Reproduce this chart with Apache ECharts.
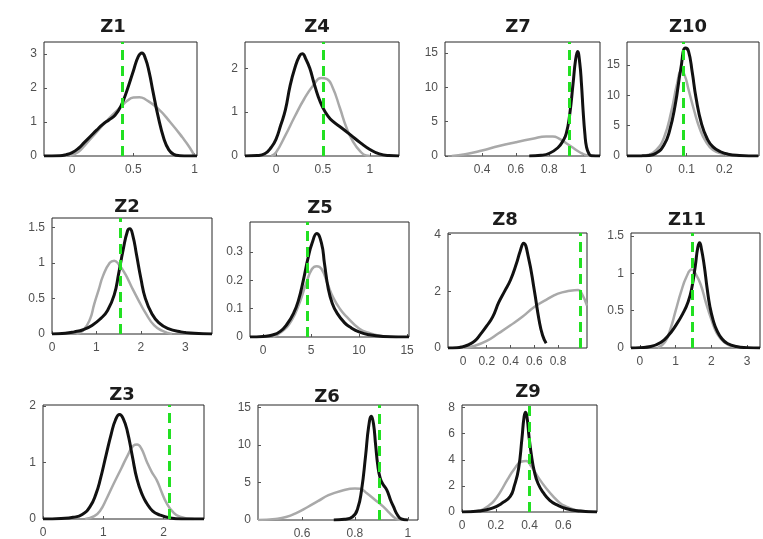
<!DOCTYPE html>
<html><head><meta charset="utf-8">
<script src="https://cdn.jsdelivr.net/npm/echarts@6/dist/echarts.min.js"></script>
<style>html,body{margin:0;padding:0;background:#fff}#c{width:763px;height:539px}</style>
</head><body><div id="c"></div>
<script>
// ---------- data ----------
const panelNames = ['Z1','Z4','Z7','Z10','Z2','Z5','Z8','Z11','Z3','Z6','Z9'];

const z1Black = [[-0.23,0],[-0.1,0.01],[-0.05,0.04],[0,0.1],[0.05,0.22],[0.1,0.4],[0.15,0.58],[0.2,0.76],[0.25,0.93],[0.3,1.06],[0.35,1.2],[0.4,1.48],[0.45,1.95],[0.5,2.5],[0.54,2.92],[0.57,3.03],[0.6,2.85],[0.63,2.45],[0.66,1.9],[0.7,1.2],[0.75,0.5],[0.79,0.18],[0.83,0.05],[0.88,0.01],[0.95,0],[1.02,0]];
const z1Gray  = [[-0.02,0],[0.05,0.12],[0.1,0.3],[0.2,0.7],[0.3,1.1],[0.4,1.45],[0.45,1.62],[0.5,1.72],[0.55,1.73],[0.6,1.66],[0.7,1.4],[0.8,1.0],[0.9,0.55],[0.96,0.25],[1.0,0]];
const z4Black = [[-0.33,0],[-0.2,0.01],[-0.12,0.05],[-0.05,0.2],[0,0.38],[0.05,0.7],[0.1,1.05],[0.15,1.6],[0.2,2.0],[0.25,2.28],[0.28,2.33],[0.32,2.2],[0.36,2.0],[0.4,1.7],[0.45,1.35],[0.5,1.1],[0.55,0.92],[0.6,0.8],[0.7,0.64],[0.8,0.47],[0.9,0.3],[1.0,0.15],[1.1,0.05],[1.2,0.01],[1.31,0]];
const z4Gray  = [[-0.05,0],[0,0.08],[0.1,0.47],[0.2,0.9],[0.3,1.3],[0.4,1.62],[0.48,1.78],[0.54,1.76],[0.6,1.58],[0.68,1.1],[0.75,0.65],[0.82,0.33],[0.9,0.1],[0.96,0.01],[1.0,0]];
const z7Black = [[0.68,0],[0.75,0.1],[0.8,0.4],[0.85,1.2],[0.88,2.2],[0.9,3.3],[0.92,6],[0.94,10.5],[0.955,14],[0.967,15.2],[0.98,13.5],[0.99,10.5],[1.0,6.5],[1.01,3.3],[1.02,1.3],[1.035,0.3],[1.05,0.05],[1.1,0]];
const z7Gray  = [[0.22,0],[0.3,0.25],[0.4,0.8],[0.5,1.45],[0.6,2.0],[0.7,2.5],[0.78,2.85],[0.82,2.85],[0.86,2.5],[0.9,1.85],[0.94,1.2],[0.98,0.55],[1.02,0.1],[1.05,0]];
const z10Black = [[-0.058,0],[-0.02,0.02],[0,0.1],[0.02,0.5],[0.04,1.8],[0.055,4.2],[0.07,8.5],[0.085,14.5],[0.097,17.8],[0.105,17.3],[0.115,13.8],[0.125,9.6],[0.14,5.2],[0.155,2.8],[0.17,1.5],[0.19,0.7],[0.21,0.3],[0.24,0.1],[0.29,0]];
const z10Gray  = [[-0.02,0],[0,0.2],[0.02,1.0],[0.04,3.0],[0.06,7.5],[0.075,12],[0.086,14],[0.095,13.3],[0.105,11],[0.12,7.5],[0.135,4.5],[0.15,2.5],[0.17,1.0],[0.2,0.3],[0.24,0]];
const z2Black = [[0,0],[0.3,0.01],[0.5,0.03],[0.7,0.06],[0.9,0.12],[1.1,0.22],[1.25,0.33],[1.4,0.55],[1.5,0.85],[1.6,1.18],[1.7,1.45],[1.75,1.48],[1.82,1.38],[1.9,1.12],[2.0,0.78],[2.1,0.5],[2.25,0.28],[2.4,0.16],[2.6,0.08],[2.9,0.03],[3.2,0.01],[3.6,0]];
const z2Gray  = [[0.55,0],[0.7,0.05],[0.85,0.2],[0.95,0.42],[1.05,0.62],[1.15,0.82],[1.3,1.0],[1.4,1.03],[1.5,0.98],[1.65,0.84],[1.8,0.65],[1.95,0.47],[2.1,0.3],[2.3,0.12],[2.5,0.04],[2.7,0]];
const z5Black = [[-1.35,0],[0,0.002],[1,0.007],[1.8,0.02],[2.5,0.045],[3.2,0.085],[3.7,0.13],[4.2,0.2],[4.7,0.28],[5.1,0.33],[5.6,0.365],[6.1,0.33],[6.4,0.26],[6.8,0.17],[7.2,0.12],[7.7,0.085],[8.5,0.05],[9.2,0.032],[10,0.018],[11,0.008],[12.5,0.002],[15.2,0]];
const z5Gray  = [[1,0],[2,0.02],[3,0.06],[3.8,0.12],[4.5,0.19],[5.1,0.24],[5.6,0.25],[6.1,0.24],[6.7,0.19],[7.3,0.14],[8,0.1],[8.7,0.072],[10,0.03],[11,0.015],[12.5,0.003],[14,0]];
const z8Black = [[-0.126,0],[-0.05,0.01],[0,0.05],[0.05,0.12],[0.1,0.25],[0.15,0.5],[0.2,0.78],[0.25,1.1],[0.3,1.6],[0.35,2.0],[0.4,2.4],[0.45,2.98],[0.48,3.4],[0.51,3.7],[0.55,3.22],[0.6,2.05],[0.64,1.0],[0.67,0.45],[0.7,0.17]];
const z8Gray  = [[0,0],[0.1,0.08],[0.2,0.25],[0.3,0.52],[0.4,0.8],[0.5,1.1],[0.6,1.45],[0.7,1.7],[0.8,1.92],[0.9,2.02],[0.97,2.05],[1.0,1.92],[1.044,1.5]];
const z11Black = [[-0.25,0],[0,0.005],[0.3,0.02],[0.6,0.08],[0.8,0.17],[1.0,0.3],[1.2,0.46],[1.35,0.62],[1.45,0.8],[1.55,1.1],[1.62,1.35],[1.67,1.41],[1.72,1.33],[1.8,1.1],[1.88,0.8],[1.96,0.55],[2.05,0.37],[2.15,0.24],[2.3,0.12],[2.45,0.06],[2.7,0.02],[3.0,0.005],[3.36,0]];
const z11Gray  = [[0.5,0],[0.7,0.08],[0.85,0.25],[1.0,0.5],[1.15,0.75],[1.3,0.95],[1.45,1.05],[1.55,1.0],[1.7,0.85],[1.85,0.6],[2.0,0.38],[2.15,0.2],[2.35,0.08],[2.6,0.02],[2.9,0]];
const z3Black = [[0,0],[0.3,0.01],[0.5,0.03],[0.65,0.08],[0.78,0.22],[0.88,0.45],[0.95,0.7],[1.05,1.15],[1.13,1.5],[1.2,1.75],[1.27,1.85],[1.33,1.78],[1.4,1.55],[1.48,1.12],[1.56,0.7],[1.65,0.42],[1.72,0.28],[1.82,0.14],[1.94,0.07],[2.1,0.02],[2.3,0],[2.67,0]];
const z3Gray  = [[0.7,0],[0.85,0.05],[0.95,0.15],[1.05,0.35],[1.17,0.62],[1.3,0.9],[1.4,1.12],[1.5,1.3],[1.56,1.32],[1.63,1.25],[1.72,1.02],[1.8,0.84],[1.89,0.68],[1.97,0.47],[2.05,0.28],[2.15,0.13],[2.27,0.04],[2.5,0]];
const z6Black = [[0.72,0],[0.76,0.1],[0.79,0.4],[0.81,1.5],[0.825,4],[0.84,8.5],[0.852,12.5],[0.862,13.8],[0.87,12.8],[0.878,10],[0.886,7.3],[0.895,5.6],[0.905,4.8],[0.92,4.0],[0.935,2.6],[0.945,1.8],[0.96,0.7],[0.975,0.15],[1.0,0]];
const z6Gray  = [[0.434,0],[0.5,0.15],[0.54,0.4],[0.58,0.95],[0.62,1.7],[0.66,2.5],[0.7,3.3],[0.75,3.9],[0.8,4.2],[0.82,4.15],[0.845,3.55],[0.875,2.7],[0.907,1.77],[0.93,0.95],[0.945,0.44],[0.963,0.05],[0.975,0]];
const z9Black = [[0,0],[0.1,0.08],[0.18,0.3],[0.24,0.7],[0.286,1.2],[0.31,2.0],[0.335,3.3],[0.355,5.6],[0.368,7.3],[0.377,7.65],[0.387,7.1],[0.397,5.8],[0.412,4.3],[0.427,3.2],[0.45,2.2],[0.484,1.44],[0.52,0.9],[0.563,0.54],[0.62,0.25],[0.7,0.08],[0.8,0]];
const z9Gray  = [[0.05,0],[0.1,0.1],[0.13,0.25],[0.16,0.5],[0.19,0.85],[0.23,1.6],[0.27,2.5],[0.31,3.3],[0.35,3.85],[0.38,3.9],[0.41,3.5],[0.46,2.5],[0.5,1.8],[0.54,1.2],[0.58,0.7],[0.62,0.4],[0.66,0.2],[0.7,0.1],[0.76,0.02],[0.8,0]];

// reference (green dashed) positions
const refValues = [0.41, 0.5, 0.924, 0.09, 1.54, 4.6, 0.994, 1.47, 2.1, 0.892, 0.395];

// tick labels
const xTickValues = [[0,0.5,1],[0,0.5,1],[0.4,0.6,0.8,1],[0,0.1,0.2],[0,1,2,3],[0,5,10,15],[0,0.2,0.4,0.6,0.8],[0,1,2,3],[0,1,2],[0.6,0.8,1],[0,0.2,0.4,0.6]];
const yTickValues = [[0,1,2,3],[0,1,2],[0,5,10,15],[0,5,10,15],[0,0.5,1,1.5],[0,0.1,0.2,0.3],[0,2,4],[0,0.5,1,1.5],[0,1,2],[0,5,10,15],[0,2,4,6,8]];

// axis ranges [xmin, xmax, ymax]
const axisRanges = [[-0.23,1.02,3.35],[-0.33,1.31,2.6],[0.18,1.1,16.6],[-0.058,0.292,18.8],[0,3.6,1.63],[-1.35,15.2,0.406],[-0.126,1.044,4.06],[-0.25,3.36,1.54],[0,2.67,2.02],[0.434,1.038,15.3],[0,0.8,8.2]];

const blackSeries = [z1Black,z4Black,z7Black,z10Black,z2Black,z5Black,z8Black,z11Black,z3Black,z6Black,z9Black];
const graySeries  = [z1Gray,z4Gray,z7Gray,z10Gray,z2Gray,z5Gray,z8Gray,z11Gray,z3Gray,z6Gray,z9Gray];

// ---------- layout (pixel boxes: left, top, width, height ; title centre x, y) ----------
const boxes = [[44,42,153,114],[245,42,154,114],[445,42,155,114],[627,42,132,114],
               [52,218,160,116],[250,222,159,115],[448,233,139,115],[631,233,129,115],
               [43,405,161,114],[258,405,160,115],[462,405,135,107]];
const titlePos = [[113,27],[317,27],[518,27],[688,27],[127,207],[320,208],[505,220],[687,220],[122,395],[327,397],[528,392]];

const grids = [], xAxes = [], yAxes = [], series = [], graphics = [];
const labelStyle = {color:'#505050', fontSize:12, fontFamily:'"Liberation Sans", Arial, sans-serif'};
panelNames.forEach((name, i) => {
  const b = boxes[i], r = axisRanges[i];
  grids.push({left:b[0], top:b[1], width:b[2], height:b[3], show:true, borderColor:'#262626', borderWidth:1, backgroundColor:'transparent', containLabel:false, outerBoundsMode:'none'});
  xAxes.push({type:'value', gridIndex:i, min:r[0], max:r[1],
    axisLine:{show:false, onZero:false}, splitLine:{show:false},
    axisTick:{show:true, inside:true, length:3, customValues:xTickValues[i], lineStyle:{color:'#555'}},
    axisLabel:Object.assign({margin:8, customValues:xTickValues[i]}, labelStyle)});
  yAxes.push({type:'value', gridIndex:i, min:0, max:r[2],
    axisLine:{show:false, onZero:false}, splitLine:{show:false},
    axisTick:{show:true, inside:true, length:3, customValues:yTickValues[i], lineStyle:{color:'#555'}},
    axisLabel:Object.assign({margin:7, customValues:yTickValues[i]}, labelStyle)});
  series.push({type:'line', xAxisIndex:i, yAxisIndex:i, data:graySeries[i], smooth:0.5,
    symbol:'none', showSymbol:false, silent:true, z:2, lineStyle:{color:'#a9a9a9', width:2.5}});
  series.push({type:'line', xAxisIndex:i, yAxisIndex:i, data:blackSeries[i], smooth:0.5,
    symbol:'none', showSymbol:false, silent:true, z:3, lineStyle:{color:'#111111', width:3},
    markLine:{silent:true, symbol:['none','none'], label:{show:false}, animation:false,
      lineStyle:{color:'#22e022', type:[10,6], width:3, opacity:1},
      emphasis:{disabled:true},
      data:[{xAxis:refValues[i]}]}});
  graphics.push({type:'text', x:titlePos[i][0], y:titlePos[i][1], silent:true,
    style:{text:name, font:'bold 18px "DejaVu Sans", Verdana, sans-serif', fill:'#1c1c1c',
      textAlign:'center', textVerticalAlign:'middle', align:'center', verticalAlign:'middle'}});
});

const chart = echarts.init(document.getElementById('c'), null, {renderer:'canvas', width:763, height:539});
chart.setOption({
  animation:false,
  backgroundColor:'#ffffff',
  grid:grids, xAxis:xAxes, yAxis:yAxes, series:series,
  graphic:{elements:graphics}
});
</script>
</body></html>
